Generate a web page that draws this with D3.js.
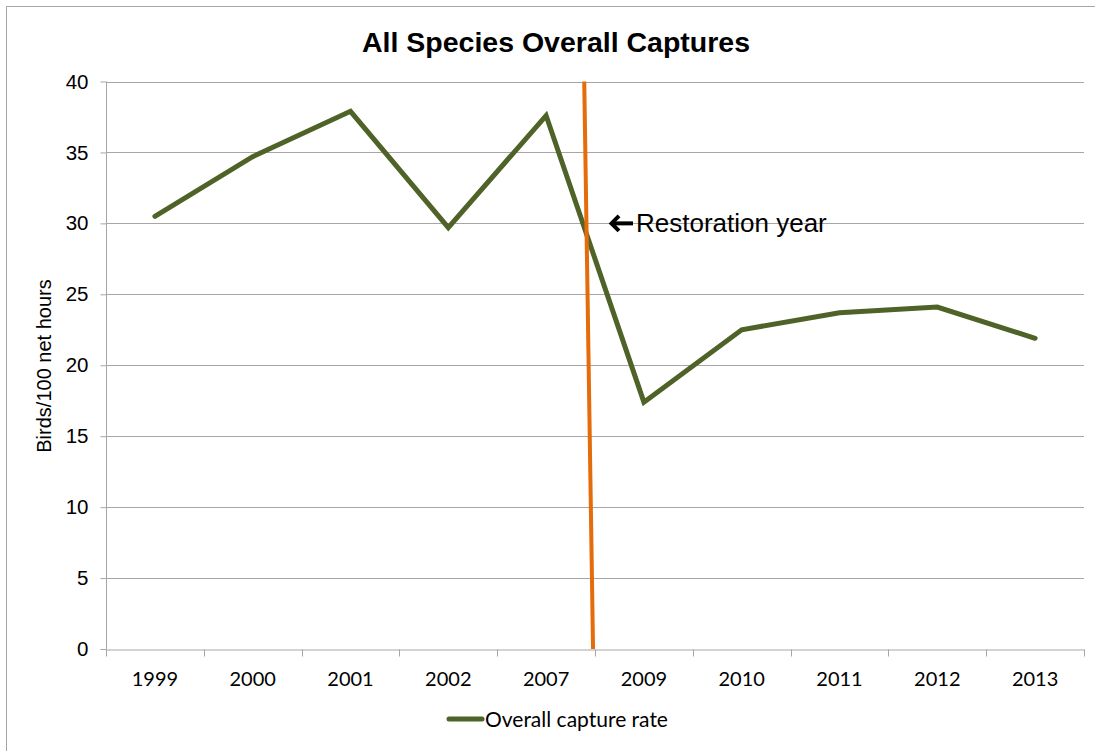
<!DOCTYPE html>
<html>
<head>
<meta charset="utf-8">
<script src="https://cdn.jsdelivr.net/npm/d3@7"></script>
<style>
  html, body { margin: 0; padding: 0; background: #fff; }
  svg { display: block; }
</style>
</head>
<body>
<svg id="chart" width="1095" height="751"></svg>
<script>
// Capture rate per survey year (birds per 100 net hours)
const years = ["1999", "2000", "2001", "2002", "2007", "2009", "2010", "2011", "2012", "2013"];
const captureRate = [30.5, 34.7, 37.9, 29.7, 37.6, 17.4, 22.5, 23.7, 24.1, 21.9];
const yTicks = [0, 5, 10, 15, 20, 25, 30, 35, 40];

// Restoration marker: position along the category axis (in category units) at the top and bottom
const restorationPos = [4.89, 4.98];
const restorationVal = [40, 0];
const restorationLabelValue = 30;

const W = 1095, H = 751;
const margin = { left: 106, right: 1084, top: 81.5, bottom: 649 };

const svg = d3.select("#chart");

// outer frame
svg.append("rect")
  .attr("x", 6.5).attr("y", 6.5)
  .attr("width", W + 10).attr("height", H + 10)
  .attr("fill", "none").attr("stroke", "#a6a6a6").attr("stroke-width", 1);

const xBand = d3.scaleBand().domain(years).range([margin.left, margin.right]).padding(0);
const xPos = d3.scaleLinear().domain([0, years.length]).range([margin.left, margin.right]);
const y = d3.scaleLinear().domain([0, 40]).range([margin.bottom, margin.top]);

// horizontal gridlines
svg.append("g")
  .selectAll("line")
  .data(yTicks.filter(v => v > 0))
  .join("line")
  .attr("x1", margin.left).attr("x2", margin.right)
  .attr("y1", d => Math.round(y(d)) + 0.5).attr("y2", d => Math.round(y(d)) + 0.5)
  .attr("stroke", "#a6a6a6").attr("stroke-width", 1);

// y axis
const yAxis = svg.append("g")
  .attr("transform", `translate(${margin.left + 0.5},0)`)
  .call(d3.axisLeft(y).tickValues(yTicks).tickSize(6).tickPadding(12).tickFormat(d3.format("d")));
yAxis.select(".domain").attr("stroke", "#a6a6a6").attr("d", `M0,${margin.top}V${margin.bottom}`);
yAxis.selectAll(".tick line").attr("stroke", "#a6a6a6");
yAxis.selectAll(".tick text")
  .attr("font-family", "'Liberation Sans', Arial, sans-serif")
  .attr("font-size", 20.5).attr("fill", "#000");

// x axis: labels centred in each category, tick marks on category boundaries
const xAxis = svg.append("g")
  .attr("transform", `translate(0,${Math.round(margin.bottom) + 0.5})`)
  .call(d3.axisBottom(xBand).tickSize(0).tickPadding(22));
xAxis.select(".domain").attr("stroke", "#a6a6a6");
xAxis.selectAll(".tick text")
  .attr("font-family", "Lato, 'Open Sans', sans-serif")
  .attr("font-size", 20).attr("fill", "#000");
xAxis.append("g")
  .selectAll("line")
  .data(d3.range(years.length + 1))
  .join("line")
  .attr("x1", d => Math.round(xPos(d)) + 0.5).attr("x2", d => Math.round(xPos(d)) + 0.5)
  .attr("y1", 0).attr("y2", 7)
  .attr("stroke", "#a6a6a6");

// capture-rate line
const line = d3.line()
  .x((d, i) => xBand(years[i]) + xBand.bandwidth() / 2)
  .y(d => y(d));
svg.append("path")
  .datum(captureRate)
  .attr("d", line)
  .attr("fill", "none")
  .attr("stroke", "#4f6228")
  .attr("stroke-width", 5)
  .attr("stroke-linejoin", "miter")
  .attr("stroke-linecap", "round");

// restoration marker line
svg.append("line")
  .attr("x1", xPos(restorationPos[0])).attr("y1", y(restorationVal[0]))
  .attr("x2", xPos(restorationPos[1])).attr("y2", y(restorationVal[1]))
  .attr("stroke", "#e46c0a").attr("stroke-width", 4);

// restoration annotation: bold arrow pointing back at the marker, then the label
const ay = y(restorationLabelValue);
const arrow = svg.append("g").attr("transform", `translate(609,${ay})`)
  .attr("fill", "none").attr("stroke", "#000").attr("stroke-width", 4);
arrow.append("path").attr("d", "M10,-7.5L2.5,0L10,7.5").attr("stroke-linejoin", "miter");
arrow.append("path").attr("d", "M3,0H24");

svg.append("text")
  .attr("x", 636)
  .attr("y", ay + 9)
  .attr("font-family", "'Liberation Sans', Arial, sans-serif")
  .attr("font-size", 26)
  .attr("fill", "#000")
  .text("Restoration year");

// title
svg.append("text")
  .attr("x", 556).attr("y", 52)
  .attr("text-anchor", "middle")
  .attr("font-family", "'Liberation Sans', Arial, sans-serif")
  .attr("font-weight", "bold")
  .attr("font-size", 28.5)
  .attr("fill", "#000")
  .text("All Species Overall Captures");

// y axis title
svg.append("text")
  .attr("transform", `translate(51,366) rotate(-90)`)
  .attr("text-anchor", "middle")
  .attr("font-family", "'Liberation Sans', Arial, sans-serif")
  .attr("font-size", 20)
  .attr("fill", "#000")
  .text("Birds/100 net hours");

// legend
const legend = svg.append("g").attr("transform", "translate(449,719)");
legend.append("line")
  .attr("x1", 0).attr("x2", 33).attr("y1", 0).attr("y2", 0)
  .attr("stroke", "#4f6228").attr("stroke-width", 5).attr("stroke-linecap", "round");
legend.append("text")
  .attr("x", 36).attr("y", 7.5)
  .attr("font-family", "Lato, 'Open Sans', sans-serif")
  .attr("font-size", 21)
  .attr("fill", "#000")
  .text("Overall capture rate");
</script>
</body>
</html>
